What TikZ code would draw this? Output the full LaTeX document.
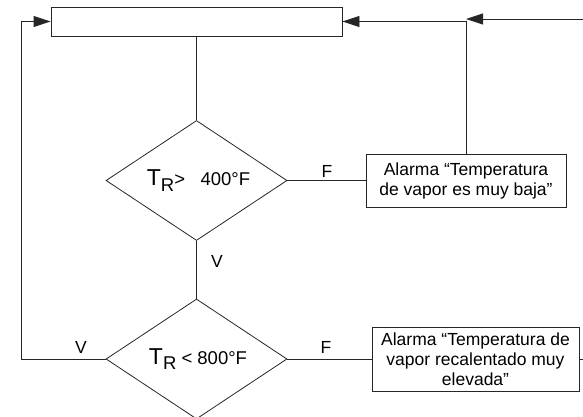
\documentclass[tikz,border=0pt]{standalone}
\usepackage{fontspec}
\setmainfont{Liberation Sans}
\usetikzlibrary{arrows.meta, shapes.geometric}

% T with subscript R, the T set a little larger as in the chart
\newcommand{\temprec}{{\fontsize{23pt}{23pt}\selectfont T}\raisebox{-5.5pt}{R}}

\begin{document}
\begin{tikzpicture}[
    x=1pt, y=-1pt,
    >={Triangle[length=17pt, width=11pt]},
    line/.style     = {line width=0.9pt, black!85},
    caja/.style     = {draw=black!85, line width=0.9pt, rectangle,
                       inner sep=0pt, align=center},
    decision/.style = {draw=black!85, line width=0.8pt, diamond,
                       shape aspect=1.508, minimum width=181pt,
                       minimum height=120pt, inner sep=0pt,
                       font=\fontsize{18.5pt}{22pt}\selectfont},
    etiq/.style     = {inner sep=0pt, anchor=base},
    font=\fontsize{17.5pt}{20pt}\selectfont,
  ]

  \useasboundingbox (0,0) rectangle (583,417);

  % --- blocks ----------------------------------------------------------------
  \node[caja, minimum width=291pt, minimum height=29pt] (inicio)
    at (196.5,21.5) {};
  \node[decision] (cond400) at (196.5,180.5) {\hspace{4pt}\temprec>\ \ \ 400°F};
  \node[decision] (cond800) at (196.5,359) {\hspace{3pt}\temprec\ < 800°F};
  \node[caja, minimum width=200pt, minimum height=53pt] (alarmaBaja)
    at (466,180.5) {Alarma “Temperatura\\de vapor es muy baja”};
  \node[caja, minimum width=207pt, minimum height=64pt] (alarmaAlta)
    at (475.5,359) {Alarma “Temperatura de\\vapor recalentado muy\\elevada”};

  % --- free ends of the connectors ------------------------------------------
  \coordinate (retorno)    at (21,359);
  \coordinate (salidaAlta) at (583,359);
  \coordinate (entrada)    at (583,19);
  \coordinate (llegada)    at (466,19);

  % --- connectors ------------------------------------------------------------
  \draw[line] (inicio) -- (cond400);
  \draw[line] (cond400) -- (alarmaBaja);
  \draw[line, ->] (alarmaBaja.north) |- (inicio.east);
  \draw[line] (cond400) -- (cond800);
  \draw[line] (cond800) -- (alarmaAlta);
  \draw[line, ->] (cond800.west) -- (retorno) |- (inicio.west);
  \draw[line] (alarmaAlta) -- (salidaAlta);
  \draw[line, ->] (entrada) -- (llegada);

  % --- branch labels ---------------------------------------------------------
  \node[etiq] (f400) at (327,177) {F};
  \node[etiq] (v400) at (217,267) {V};
  \node[etiq] (f800) at (326,353) {F};
  \node[etiq] (v800) at (81,353) {V};

\end{tikzpicture}
\end{document}
